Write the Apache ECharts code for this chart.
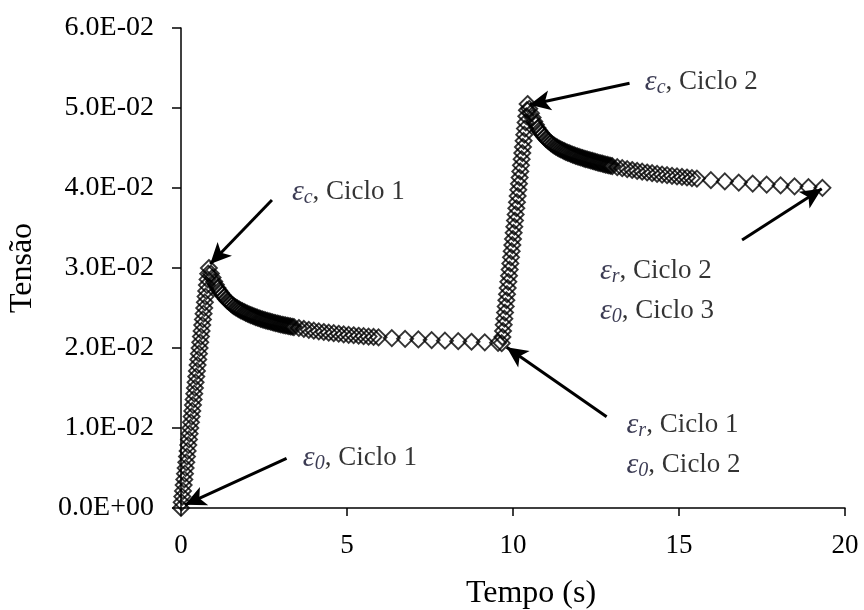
<!DOCTYPE html>
<html>
<head>
<meta charset="utf-8">
<script src="https://cdn.jsdelivr.net/npm/echarts@6/dist/echarts.min.js"></script>
<style>
html,body{margin:0;padding:0;background:#fff;}
#chart{width:864px;height:610px;}
</style>
</head>
<body>
<div id="chart"></div>
<script>
// ---- data ----
const timeRise1 = [0.00,0.02,0.04,0.06,0.08,0.10,0.12,0.14,0.16,0.18,0.20,0.22,0.24,0.26,0.28,0.30,0.32,0.34,0.36,0.38,0.40,0.42,0.44,0.46,0.48,0.50,0.52,0.54,0.56,0.58,0.60,0.62,0.64,0.66,0.68,0.70,0.72,0.74,0.76,0.78,0.80,0.82,0.84];
const strainRise1 = [0,0.00071,0.00143,0.00214,0.00286,0.00357,0.00429,0.00500,0.00571,0.00643,0.00714,0.00786,0.00857,0.00929,0.01000,0.01071,0.01143,0.01214,0.01286,0.01357,0.01429,0.01500,0.01571,0.01643,0.01714,0.01786,0.01857,0.01929,0.02000,0.02071,0.02143,0.02214,0.02286,0.02357,0.02429,0.02500,0.02571,0.02643,0.02714,0.02786,0.02857,0.02929,0.03000];

const timeHold1 = [0.90,0.95,1.00,1.05,1.10,1.15,1.20,1.25,1.30,1.35,1.40,1.45,1.50,1.55,1.60,1.65,1.70,1.75,1.80,1.85,1.90,1.95,2.00,2.05,2.10,2.15,2.20,2.25,2.30,2.35,2.40,2.45,2.50,2.55,2.60,2.65,2.70,2.75,2.80,2.85,2.90,2.95,3.00,3.05,3.10,3.15,3.20,3.25,3.30,3.35,3.40,
  3.55,3.70,3.85,4.00,4.15,4.30,4.45,4.60,4.75,4.90,5.05,5.20,5.35,5.50,5.65,5.80,5.95,
  6.35,6.75,7.15,7.55,7.95,8.35,8.75,9.15,9.55];
const strainHold1 = [0.02930,0.02880,0.02830,0.02790,0.02750,0.02720,0.02690,0.02664,0.02640,0.02614,0.02590,0.02572,0.02555,0.02537,0.02520,0.02507,0.02495,0.02482,0.02470,0.02460,0.02450,0.02440,0.02430,0.02421,0.02412,0.02403,0.02395,0.02387,0.02379,0.02372,0.02365,0.02358,0.02352,0.02346,0.02340,0.02334,0.02328,0.02322,0.02316,0.02311,0.02306,0.02301,0.02296,0.02291,0.02286,0.02282,0.02278,0.02274,0.02270,0.02266,0.02262,
  0.02250,0.02238,0.02227,0.02217,0.02208,0.02200,0.02192,0.02185,0.02178,0.02171,0.02165,0.02159,0.02153,0.02148,0.02143,0.02138,0.02133,
  0.02124,0.02115,0.02107,0.02099,0.02092,0.02085,0.02078,0.02071,0.02065];

const timeRise2 = [9.66,9.68,9.70,9.72,9.74,9.76,9.78,9.80,9.82,9.84,9.86,9.88,9.90,9.92,9.94,9.96,9.98,10.00,10.02,10.04,10.06,10.08,10.10,10.12,10.14,10.16,10.18,10.20,10.22,10.24,10.26,10.28,10.30,10.32,10.34,10.36,10.38,10.40,10.42,10.44];
const strainRise2 = [0.02060,0.02137,0.02213,0.02290,0.02367,0.02443,0.02520,0.02597,0.02673,0.02750,0.02827,0.02903,0.02980,0.03057,0.03133,0.03210,0.03287,0.03363,0.03440,0.03517,0.03593,0.03670,0.03747,0.03823,0.03900,0.03977,0.04053,0.04130,0.04207,0.04283,0.04360,0.04437,0.04513,0.04590,0.04667,0.04743,0.04820,0.04897,0.04973,0.05050];

const timeHold2 = [10.49,10.54,10.59,10.64,10.69,10.74,10.79,10.84,10.89,10.94,10.99,11.04,11.09,11.14,11.19,11.24,11.29,11.34,11.39,11.44,11.49,11.54,11.59,11.64,11.69,11.74,11.79,11.84,11.89,11.94,11.99,12.04,12.09,12.14,12.19,12.24,12.29,12.34,12.39,12.44,12.49,12.54,12.59,12.64,12.69,12.74,12.79,12.84,12.89,12.94,12.99,
  13.14,13.29,13.44,13.59,13.74,13.89,14.04,14.19,14.34,14.49,14.64,14.79,14.94,15.09,15.24,15.39,15.54,
  15.96,16.38,16.80,17.22,17.64,18.06,18.48,18.90,19.32];
const strainHold2 = [0.04990,0.04935,0.04880,0.04830,0.04790,0.04750,0.04720,0.04690,0.04665,0.04640,0.04615,0.04595,0.04578,0.04560,0.04545,0.04530,0.04518,0.04505,0.04493,0.04482,0.04472,0.04462,0.04452,0.04443,0.04435,0.04426,0.04418,0.04410,0.04402,0.04395,0.04388,0.04381,0.04375,0.04368,0.04362,0.04356,0.04350,0.04344,0.04338,0.04332,0.04326,0.04320,0.04315,0.04309,0.04304,0.04298,0.04293,0.04288,0.04283,0.04278,0.04274,
  0.04260,0.04248,0.04236,0.04225,0.04214,0.04204,0.04194,0.04185,0.04176,0.04168,0.04160,0.04152,0.04145,0.04138,0.04131,0.04124,0.04118,
  0.04098,0.04082,0.04068,0.04055,0.04043,0.04032,0.04021,0.04011,0.04002];

const xTickValues = [0, 5, 10, 15, 20];
const yTickLabels = ['0.0E+00','1.0E-02','2.0E-02','3.0E-02','4.0E-02','5.0E-02','6.0E-02'];

// annotation arrows: tail (time, strain) and head (time, strain)
const arrowTails = [[2.74,0.0385],[13.51,0.0531],[3.18,0.0062],[12.82,0.0114],[16.90,0.0335]];
const arrowHeads = [[0.88,0.0305],[10.50,0.0504],[0.12,0.0004],[9.81,0.0201],[19.30,0.0399]];
// annotation texts: subscript, text, anchor (time, strain)
const noteSub = ['c','c','r','0','r','0','0'];
const noteText = [', Ciclo 1',', Ciclo 2',', Ciclo 2',', Ciclo 3',', Ciclo 1',', Ciclo 2',', Ciclo 1'];
const noteAt = [[3.34,0.0395],[13.97,0.05325],[12.62,0.0296],[12.62,0.0246],[13.42,0.0104],[13.42,0.0054],[3.67,0.00625]];

// ---- build ----
function zip(a, b){ const n = Math.min(a.length, b.length); const out=[]; for(let i=0;i<n;i++) out.push([a[i], b[i]]); return out; }
const points = [].concat(zip(timeRise1,strainRise1), zip(timeHold1,strainHold1), zip(timeRise2,strainRise2), zip(timeHold2,strainHold2));

const serif = "'Liberation Serif','Times New Roman',serif";
const chart = echarts.init(document.getElementById('chart'), null, {renderer:'canvas'});

const arrowData = arrowTails.map((t,i)=>[{coord:t},{coord:arrowHeads[i]}]);
const noteData = noteAt.map((p,i)=>({
  value: p,
  label: { formatter: '{e|ε}{s|' + noteSub[i] + '}{t|' + noteText[i] + '}' }
}));

chart.setOption({
  animation: false,
  backgroundColor: '#fff',
  grid: { left: 181, right: 19, top: 28, bottom: 102, containLabel: false, outerBoundsMode: 'none' },
  xAxis: {
    type: 'value', min: 0, max: 20, interval: 5,
    name: 'Tempo (s)', nameLocation: 'middle', nameGap: 70,
    nameTextStyle: { fontFamily: serif, fontSize: 32, color: '#000', padding: [0,0,0,36] },
    axisLine: { show: true, lineStyle: { color: '#000', width: 1.5 } },
    axisTick: { show: true, inside: false, length: 8, lineStyle: { color: '#000', width: 1.5 } },
    axisLabel: { fontFamily: serif, fontSize: 27, color: '#000', margin: 24,
      formatter: v => (xTickValues.indexOf(v) >= 0 ? String(v) : '') },
    splitLine: { show: false }
  },
  yAxis: {
    type: 'value', min: 0, max: 0.06, interval: 0.01,
    name: 'Tensão', nameLocation: 'middle', nameGap: 142, nameRotate: 90,
    nameTextStyle: { fontFamily: serif, fontSize: 32, color: '#000' },
    axisLine: { show: true, lineStyle: { color: '#000', width: 1.5 } },
    axisTick: { show: true, inside: false, length: 9, lineStyle: { color: '#000', width: 1.5 } },
    axisLabel: { fontFamily: serif, fontSize: 28, color: '#000', margin: 27,
      formatter: v => yTickLabels[Math.round(v / 0.01)] },
    splitLine: { show: false }
  },
  series: [
    {
      type: 'scatter', name: 'Tensão',
      data: points,
      symbol: 'diamond', symbolSize: [16, 16],
      itemStyle: { color: 'rgba(0,0,0,0)', borderColor: '#000', borderWidth: 1.9 },
      emphasis: { disabled: true },
      z: 2
    },
    {
      type: 'scatter', name: 'arrows', data: [], z: 5,
      markLine: {
        silent: true, animation: false,
        symbol: ['none', 'arrow'], symbolSize: [15, 21],
        itemStyle: { color: '#000' },
        lineStyle: { color: '#000', width: 3, type: 'solid' },
        label: { show: false },
        emphasis: { disabled: true },
        data: arrowData
      }
    },
    {
      type: 'scatter', name: 'notes', data: noteData, symbolSize: 0, z: 6,
      silent: true,
      label: {
        show: true, position: 'right', distance: 0,
        rich: {
          e: { fontFamily: serif, fontStyle: 'italic', fontSize: 30, color: '#0a0a28', lineHeight: 32 },
          s: { fontFamily: serif, fontStyle: 'italic', fontSize: 20, color: '#0a0a28', padding: [12,0,0,0] },
          t: { fontFamily: serif, fontSize: 27, color: '#000', lineHeight: 32 }
        }
      }
    }
  ]
});
</script>
</body>
</html>
